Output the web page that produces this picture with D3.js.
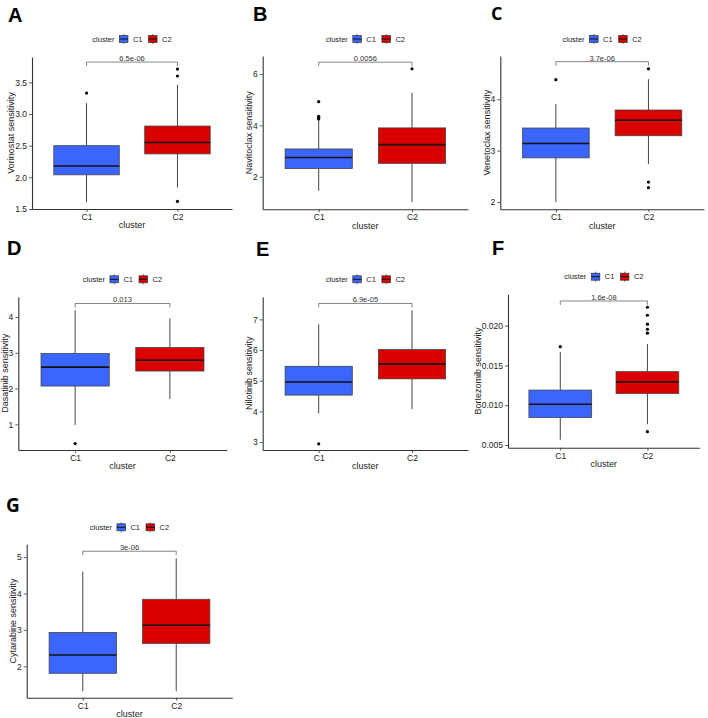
<!DOCTYPE html>
<html>
<head>
<meta charset="utf-8">
<script src="https://cdn.jsdelivr.net/npm/d3@7"></script>
<style>
  body { margin: 0; background: #fff; }
  text { font-family: "Liberation Sans", Arial, sans-serif; }
</style>
</head>
<body>
<div id="chart"></div>
<script>
// ---- Data ----
const clusters = ["C1", "C2"];
const panelLetters = ["A", "B", "C", "D", "E", "F", "G"];
const drugs = ["Vorinostat", "Navitoclax", "Venetoclax", "Dasatinib", "Nilotinib", "Bortezomib", "Cytarabine"];
const pValues = ["6.5e-06", "0.0056", "3.7e-06", "0.013", "6.9e-05", "1.6e-08", "3e-06"];

// [lower whisker, Q1, median, Q3, upper whisker]
const c1Stats = [
  [1.606, 2.04, 2.18, 2.50, 3.17],
  [1.45, 2.32, 2.75, 3.08, 4.20],
  [2.00, 2.86, 3.14, 3.44, 3.91],
  [0.98, 2.07, 2.60, 2.98, 4.19],
  [3.93, 4.53, 4.96, 5.47, 6.84],
  [0.00566, 0.00845, 0.01012, 0.0119, 0.0167],
  [1.32, 1.81, 2.31, 2.93, 4.60]
];
const c2Stats = [
  [1.84, 2.37, 2.55, 2.81, 3.46],
  [1.01, 2.52, 3.25, 3.90, 5.27],
  [2.74, 3.29, 3.59, 3.79, 4.39],
  [1.71, 2.49, 2.79, 3.15, 3.96],
  [4.07, 5.06, 5.55, 6.02, 7.30],
  [0.00761, 0.01146, 0.01292, 0.01422, 0.0177],
  [1.32, 2.63, 3.13, 3.84, 4.96]
];
const c1Outliers = [
  [3.33],
  [4.25, 4.30, 4.35, 4.92],
  [4.38],
  [0.46],
  [2.94],
  [0.01736],
  []
];
const c2Outliers = [
  [1.62, 3.60, 3.71],
  [6.20],
  [2.28, 2.39, 4.59],
  [],
  [],
  [0.00668, 0.01905, 0.01955, 0.02018, 0.02131, 0.02231],
  []
];
const bracketLevels = [3.82, 6.46, 4.73, 4.38, 7.52, 0.0231, 5.16];
const yDomains = [
  [1.5, 3.9], [0.73, 6.70], [1.86, 4.84], [0.28, 4.57],
  [2.74, 7.74], [0.00466, 0.02394], [1.14, 5.35]
];
const yTicks = [
  [1.5, 2.0, 2.5, 3.0, 3.5],
  [2, 4, 6],
  [2, 3, 4],
  [1, 2, 3, 4],
  [3, 4, 5, 6, 7],
  [0.005, 0.010, 0.015, 0.020],
  [2, 3, 4, 5]
];
const tickFormats = [".1f", "d", "d", "d", "d", ".3f", "d"];

// ---- Layout ----
const width = 708;
const height = 718;

// plot area and label placement for each panel
const panels = [
  { left: 32,    right: 232,   top: 57,    bottom: 209,   lx: 8,   ly: 22,  legendY: 39,    font: "Liberation Sans", fs: 20 },
  { left: 262.7, right: 468,   top: 56,    bottom: 209.3, lx: 253, ly: 21,  legendY: 39,    font: "Liberation Sans", fs: 20 },
  { left: 500.3, right: 704,   top: 56,    bottom: 209.3, lx: 491, ly: 20,  legendY: 39,    font: "Open Sans", fs: 18 },
  { left: 18.3,  right: 226.7, top: 296.7, bottom: 450,   lx: 7,   ly: 255, legendY: 279.3, font: "Liberation Sans", fs: 20 },
  { left: 262.7, right: 468,   top: 296.7, bottom: 450,   lx: 256, ly: 256, legendY: 279.3, font: "Liberation Sans", fs: 20 },
  { left: 508,   right: 699.7, top: 294.3, bottom: 447.7, lx: 492, ly: 255, legendY: 276.7, font: "Liberation Sans", fs: 20 },
  { left: 26.7,  right: 232.3, top: 544.3, bottom: 697.7, lx: 6,   ly: 512, legendY: 527.3, font: "Open Sans", fs: 19 }
];

const color = d3.scaleOrdinal()
  .domain(clusters)
  .range(["#3A66FF", "#DB0000"]);

const svg = d3.select("#chart")
  .append("svg")
  .attr("width", width)
  .attr("height", height)
  .style("background", "#fff");

panels.forEach((p, i) => drawPanel(p, i));

function drawPanel(p, i) {
  const g = svg.append("g");

  const x = d3.scalePoint()
    .domain(clusters)
    .range([p.left, p.right])
    .padding(0.6);

  const y = d3.scaleLinear()
    .domain(yDomains[i])
    .range([p.bottom, p.top]);

  const boxW = x.step() * 0.72;

  // panel letter
  g.append("text")
    .attr("x", p.lx)
    .attr("y", p.ly)
    .style("font-family", p.font)
    .style("font-weight", "bold")
    .style("font-size", p.fs + "px")
    .attr("fill", "#000")
    .text(panelLetters[i]);

  // y axis
  const yAxis = g.append("g")
    .attr("transform", `translate(${p.left},0)`)
    .call(d3.axisLeft(y)
      .tickValues(yTicks[i])
      .tickFormat(d3.format(tickFormats[i]))
      .tickSize(3)
      .tickSizeOuter(0)
      .tickPadding(2));

  // x axis
  const xAxis = g.append("g")
    .attr("transform", `translate(0,${p.bottom})`)
    .call(d3.axisBottom(x)
      .tickSize(3)
      .tickSizeOuter(0)
      .tickPadding(2));

  [yAxis, xAxis].forEach(a => {
    a.select(".domain").attr("stroke", "#333").attr("stroke-width", 1.1);
    a.selectAll(".tick line").attr("stroke", "#333").attr("stroke-width", 0.8);
    a.selectAll(".tick text")
      .attr("fill", "#222")
      .style("font-size", "8.5px");
  });

  // axis titles
  g.append("text")
    .attr("x", (p.left + p.right) / 2)
    .attr("y", p.bottom + 16.3)
    .attr("dy", "0.35em")
    .attr("text-anchor", "middle")
    .attr("fill", "#222")
    .style("font-size", "9px")
    .text("cluster");

  const tickBox = yAxis.node().getBBox();
  const titleX = p.left + tickBox.x - 4;
  g.append("text")
    .attr("transform", `translate(${titleX},${(p.top + p.bottom) / 2}) rotate(-90)`)
    .attr("dy", "0.35em")
    .attr("text-anchor", "middle")
    .attr("fill", "#222")
    .style("font-size", "9px")
    .text(drugs[i] + " sensitivity");

  // boxes
  const stats = [c1Stats[i], c2Stats[i]];
  const outliers = [c1Outliers[i], c2Outliers[i]];

  clusters.forEach((c, k) => {
    const s = stats[k];
    const cx = x(c);

    g.append("line")
      .attr("x1", cx).attr("x2", cx)
      .attr("y1", y(s[0])).attr("y2", y(s[1]))
      .attr("stroke", "#444").attr("stroke-width", 1);
    g.append("line")
      .attr("x1", cx).attr("x2", cx)
      .attr("y1", y(s[3])).attr("y2", y(s[4]))
      .attr("stroke", "#444").attr("stroke-width", 1);

    g.append("rect")
      .attr("x", cx - boxW / 2)
      .attr("y", y(s[3]))
      .attr("width", boxW)
      .attr("height", y(s[1]) - y(s[3]))
      .attr("fill", color(c))
      .attr("stroke", "#444")
      .attr("stroke-width", 0.8);

    g.append("line")
      .attr("x1", cx - boxW / 2).attr("x2", cx + boxW / 2)
      .attr("y1", y(s[2])).attr("y2", y(s[2]))
      .attr("stroke", "#111").attr("stroke-width", 1.6);

    g.selectAll(null)
      .data(outliers[k])
      .enter().append("circle")
      .attr("cx", cx)
      .attr("cy", d => y(d))
      .attr("r", 1.6)
      .attr("fill", "#000");
  });

  // significance bracket
  const by = y(bracketLevels[i]);
  g.append("path")
    .attr("d", `M${x("C1")},${by + 4}V${by}H${x("C2")}V${by + 4}`)
    .attr("fill", "none")
    .attr("stroke", "#666")
    .attr("stroke-width", 0.8);
  g.append("text")
    .attr("x", (x("C1") + x("C2")) / 2)
    .attr("y", by - 1)
    .attr("text-anchor", "middle")
    .attr("fill", "#333")
    .style("font-size", "7.5px")
    .text(pValues[i]);

  drawLegend(g, (p.left + p.right) / 2, p.legendY);
}

function drawLegend(g, cx, cy) {
  const leg = g.append("g");
  let pos = 0;

  const title = leg.append("text")
    .attr("x", pos)
    .attr("y", cy)
    .attr("dy", "0.35em")
    .attr("fill", "#222")
    .style("font-size", "7.5px")
    .text("cluster");
  pos += title.node().getComputedTextLength() + 5;

  clusters.forEach(c => {
    const kw = 8.5;
    leg.append("line")
      .attr("x1", pos + kw / 2).attr("x2", pos + kw / 2)
      .attr("y1", cy - 5).attr("y2", cy + 5)
      .attr("stroke", "#444").attr("stroke-width", 0.8);
    leg.append("rect")
      .attr("x", pos)
      .attr("y", cy - 3.5)
      .attr("width", kw)
      .attr("height", 7)
      .attr("fill", color(c))
      .attr("stroke", "#333")
      .attr("stroke-width", 0.7);
    leg.append("line")
      .attr("x1", pos).attr("x2", pos + kw)
      .attr("y1", cy).attr("y2", cy)
      .attr("stroke", "#111").attr("stroke-width", 1);
    pos += kw + 5;

    const t = leg.append("text")
      .attr("x", pos)
      .attr("y", cy)
      .attr("dy", "0.35em")
      .attr("fill", "#222")
      .style("font-size", "7.5px")
      .text(c);
    pos += t.node().getComputedTextLength() + 6;
  });

  const total = pos - 6;
  leg.attr("transform", `translate(${cx - total / 2},0)`);
}
</script>
</body>
</html>
